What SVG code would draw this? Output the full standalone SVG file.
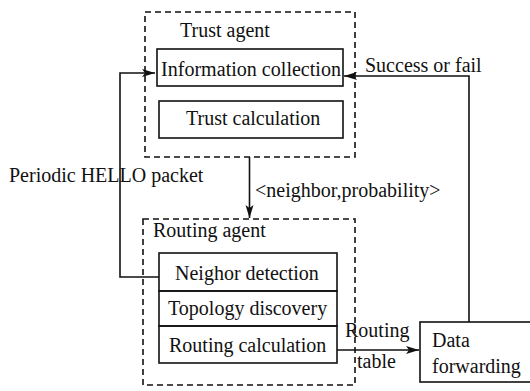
<svg xmlns="http://www.w3.org/2000/svg" width="530" height="391" viewBox="0 0 530 391">
<defs>
<style>
text{font-family:"Liberation Serif","Times New Roman",serif;font-size:20px;fill:#111}
.box{fill:none;stroke:#111;stroke-width:1.6}
.dash{fill:none;stroke:#111;stroke-width:1.6;stroke-dasharray:6,4}
.ln{fill:none;stroke:#111;stroke-width:1.6}
</style>
<marker id="ah" markerWidth="14" markerHeight="10" refX="13" refY="5" orient="auto" markerUnits="userSpaceOnUse">
<path d="M0,1 L13,5 L0,9 L3,5 Z" fill="#111"/>
</marker>
</defs>
<rect width="530" height="391" fill="#fff"/>
<g id="trust-agent">
<rect class="dash" x="145" y="12" width="210" height="145"/>
<text x="180" y="37">Trust agent</text>
</g>
<g id="information-collection">
<rect class="box" x="157" y="49" width="186" height="37"/>
<text x="161" y="76" textLength="180" lengthAdjust="spacingAndGlyphs">Information collection</text>
</g>
<g id="trust-calculation">
<rect class="box" x="159" y="101" width="184" height="37"/>
<text x="186" y="125">Trust calculation</text>
</g>
<g id="routing-agent">
<rect class="dash" x="143" y="219" width="212" height="166"/>
<text x="153" y="237">Routing agent</text>
</g>
<g id="neighbor-detection">
<rect class="box" x="159" y="253" width="178" height="38"/>
<text x="175" y="280">Neighor detection</text>
</g>
<g id="topology-discovery">
<rect class="box" x="159" y="291" width="178" height="35"/>
<text x="168" y="315">Topology discovery</text>
</g>
<g id="routing-calculation">
<rect class="box" x="159" y="326" width="178" height="37"/>
<text x="169" y="352">Routing calculation</text>
</g>
<g id="data-forwarding">
<rect class="box" x="420" y="322" width="120" height="60"/>
<text x="432" y="347">Data</text>
<text x="432" y="373">forwarding</text>
</g>
<g id="connectors">
<polyline class="ln" points="159,277 120,277 120,73 155,73" marker-end="url(#ah)"/>
<text x="9" y="182">Periodic HELLO packet</text>
<polyline class="ln" points="469,322 469,76 344,76" marker-end="url(#ah)"/>
<text x="365" y="72">Success or fail</text>
<line class="ln" x1="249.5" y1="157" x2="249.5" y2="218" marker-end="url(#ah)"/>
<text x="255" y="197">&lt;neighbor,probability&gt;</text>
<line class="ln" x1="337" y1="350" x2="419" y2="350" marker-end="url(#ah)"/>
<text x="345" y="337">Routing</text>
<text x="357" y="368">table</text>
</g>
</svg>
